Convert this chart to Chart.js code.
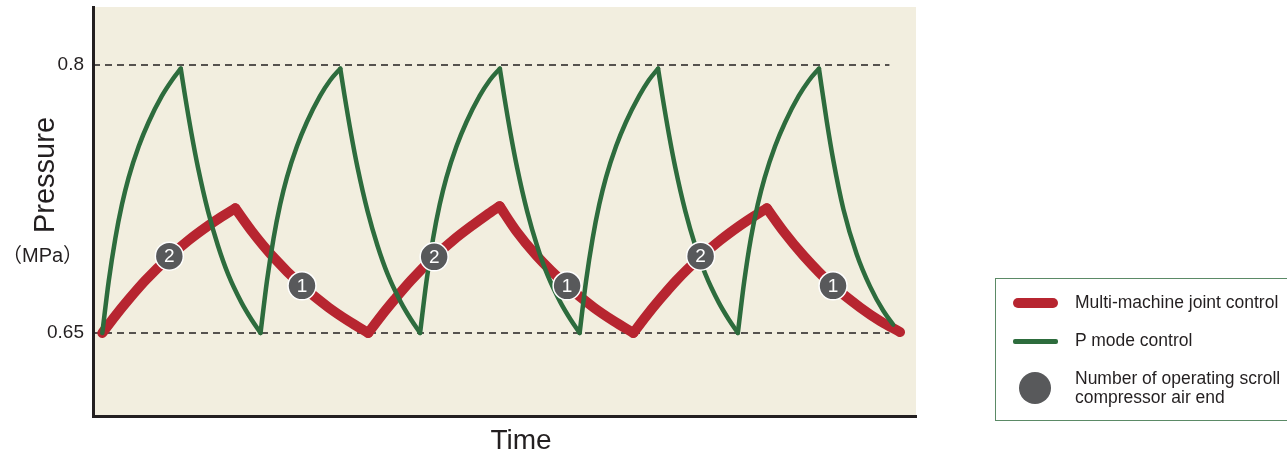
<!DOCTYPE html>
<html><head><meta charset="utf-8">
<script src="https://cdn.jsdelivr.net/npm/chart.js@4.4.1/dist/chart.umd.min.js"></script>
<style>
html,body{margin:0;padding:0;background:#fff;overflow:hidden;}
#wrap{position:relative;width:1287px;height:455px;overflow:hidden;font-family:"Liberation Sans",Arial,"Noto Sans CJK JP",sans-serif;color:#231f20;}
#c{position:absolute;left:0;top:0;}
.t{position:absolute;white-space:nowrap;line-height:1;}
#ytitle{left:44px;top:175px;font-size:29px;transform:translate(-50%,-50%) rotate(-90deg);}
#yunit{left:2px;top:255px;font-size:20px;transform:translateY(-50%);}
#xtitle{left:521px;top:440px;font-size:28px;transform:translate(-50%,-50%);}
#lbox{position:absolute;left:995px;top:278px;width:310px;height:143px;border:1px solid #5b8a66;box-sizing:border-box;}
.sw{position:absolute;}
.lt{position:absolute;white-space:nowrap;line-height:1;font-size:17.5px;transform:translateY(-50%);color:#231f20;}
</style></head>
<body>
<div id="wrap">
<canvas id="c" width="1287" height="455"></canvas>
<div class="t" id="ytitle">Pressure</div>
<div class="t" id="yunit">（MPa）</div>
<div class="t" id="xtitle">Time</div>
<div id="lbox"></div>
<div class="sw" style="left:1013px;top:298px;width:45px;height:10px;border-radius:5px;background:#b72530;"></div>
<div class="lt" style="left:1075px;top:303px;">Multi-machine joint control</div>
<div class="sw" style="left:1013px;top:339px;width:45px;height:4.5px;border-radius:2px;background:#2d6c3d;"></div>
<div class="lt" style="left:1075px;top:341px;">P mode control</div>
<div class="sw" style="left:1019px;top:372px;width:32px;height:32px;border-radius:50%;background:#58595b;"></div>
<div class="lt" style="left:1075px;top:379px;">Number of operating scroll</div>
<div class="lt" style="left:1075px;top:398px;">compressor air end</div>
</div>
<script>
// ---- data (time in arbitrary units, pressure in MPa) ----
const greenTime = [
  0, 0.24, 0.49, 0.74, 0.99, 1.37, 1.74, 2.24, 2.62, 2.95,
  3.10, 3.35, 3.60, 3.98, 4.35, 4.73, 5.23, 5.61, 5.95,
  6.19, 6.44, 6.69, 6.94, 7.32, 7.69, 8.19, 8.57, 8.95,
  9.10, 9.35, 9.60, 9.98, 10.35, 10.73, 11.23, 11.61, 11.95,
  12.19, 12.44, 12.69, 12.94, 13.32, 13.69, 14.19, 14.57, 14.95,
  15.10, 15.35, 15.60, 15.98, 16.35, 16.73, 17.23, 17.61, 17.95,
  18.19, 18.44, 18.69, 18.94, 19.32, 19.69, 20.19, 20.55, 20.90,
  21.05, 21.30, 21.55, 21.93, 22.30, 22.68, 23.18, 23.56, 23.90,
  24.14, 24.39, 24.65, 24.91, 25.30, 25.68, 26.19, 26.58, 26.95,
  27.24, 27.49, 27.87, 28.37, 28.87, 29.37, 29.74
];
const greenPressure = [
  0.650, 0.6789, 0.7030, 0.7220, 0.7370, 0.7545, 0.7680, 0.7827, 0.7915, 0.798,
  0.7838, 0.7619, 0.7425, 0.7179, 0.6988, 0.6829, 0.6671, 0.6575, 0.650,
  0.6789, 0.7030, 0.7220, 0.7370, 0.7545, 0.7680, 0.7827, 0.7915, 0.798,
  0.7838, 0.7619, 0.7425, 0.7179, 0.6988, 0.6829, 0.6671, 0.6575, 0.650,
  0.6789, 0.7030, 0.7220, 0.7370, 0.7545, 0.7680, 0.7827, 0.7915, 0.798,
  0.7838, 0.7619, 0.7425, 0.7179, 0.6988, 0.6829, 0.6671, 0.6575, 0.650,
  0.6789, 0.7030, 0.7220, 0.7370, 0.7545, 0.7680, 0.7827, 0.7915, 0.798,
  0.7838, 0.7619, 0.7425, 0.7179, 0.6988, 0.6829, 0.6671, 0.6575, 0.650,
  0.6789, 0.7030, 0.7220, 0.7370, 0.7545, 0.7680, 0.7827, 0.7915, 0.798,
  0.7689, 0.7467, 0.7193, 0.6941, 0.6761, 0.6624, 0.6547
];
const redTime = [
  0, 0.49, 0.99, 1.62, 2.52, 3.24, 4.00, 4.50, 5.00,
  5.63, 6.38, 7.51, 8.51, 9.26, 10.00,
  10.49, 10.99, 11.61, 12.48, 13.20, 13.95, 14.45, 14.94,
  15.57, 16.32, 17.48, 18.48, 19.23, 19.97,
  20.46, 20.96, 21.59, 22.50, 23.23, 23.99, 24.49, 24.99,
  25.62, 26.37, 27.48, 28.50, 29.25, 30.00
];
const redPressure = [
  0.650, 0.6596, 0.6687, 0.6794, 0.6926, 0.7018, 0.7102, 0.7152, 0.7198,
  0.7068, 0.6933, 0.6764, 0.6643, 0.6567, 0.650,
  0.6596, 0.6687, 0.6794, 0.6926, 0.7020, 0.7106, 0.7160, 0.7210,
  0.7070, 0.6934, 0.6764, 0.6643, 0.6567, 0.650,
  0.6596, 0.6687, 0.6794, 0.6926, 0.7018, 0.7102, 0.7152, 0.7198,
  0.7068, 0.6933, 0.6764, 0.6643, 0.6567, 0.6505
];
const markerTime = [2.52, 7.51, 12.48, 17.48, 22.50, 27.48];
const markerPressure = [0.6930, 0.6764, 0.6926, 0.6764, 0.6930, 0.6764];
const markerLabels = ['2', '1', '2', '1', '2', '1'];
const yTickValues = [0.65, 0.8];
const yTickLabels = ['0.65', '0.8'];
const refLevels = [0.65, 0.8];
const refStart = -0.35, refEnd = 29.6;

// ---- styles ----
const RED = '#b72530', GREEN = '#2d6c3d', GREY = '#58595b', BEIGE = '#f2eedf', INK = '#231f20';

function splitMonotone(ts, ps) {
  const segs = []; let cur = [{x: ts[0], y: ps[0]}]; let dir = 0;
  for (let i = 1; i < ts.length; i++) {
    const d = Math.sign(ps[i] - ps[i - 1]);
    if (dir !== 0 && d !== 0 && d !== dir) {
      segs.push(cur);
      const last = cur[cur.length - 1];
      cur = [{x: last.x, y: last.y}];
    }
    if (d !== 0) dir = d;
    cur.push({x: ts[i], y: ps[i]});
  }
  segs.push(cur);
  return segs;
}

const datasets = [];
datasets.push({
  label: 'markers',
  data: markerTime.map((t, i) => ({x: t, y: markerPressure[i]})),
  showLine: false, pointRadius: 14, pointHoverRadius: 14,
  pointBackgroundColor: GREY, pointBorderColor: '#ffffff', pointBorderWidth: 1.5,
  order: 0
});
splitMonotone(greenTime, greenPressure).forEach(seg => datasets.push({
  label: 'P mode control', data: seg, borderColor: GREEN, borderWidth: 4.5,
  cubicInterpolationMode: 'monotone', pointRadius: 0, borderCapStyle: 'round',
  borderJoinStyle: 'round', fill: false, order: 1
}));
splitMonotone(redTime, redPressure).forEach(seg => datasets.push({
  label: 'Multi-machine joint control', data: seg, borderColor: RED, borderWidth: 10,
  cubicInterpolationMode: 'monotone', pointRadius: 0, borderCapStyle: 'round',
  borderJoinStyle: 'round', fill: false, order: 2
}));
refLevels.forEach(v => datasets.push({
  label: 'ref', data: [{x: refStart, y: v}, {x: refEnd, y: v}], borderColor: INK,
  borderWidth: 1.5, borderDash: [7, 5], pointRadius: 0, fill: false, order: 3
}));

const bgPlugin = {
  id: 'bg',
  beforeDraw(chart) {
    const {ctx, chartArea: a} = chart;
    ctx.save(); ctx.fillStyle = BEIGE;
    ctx.fillRect(a.left, a.top, a.right - a.left, a.bottom - a.top);
    ctx.restore();
  }
};
const markerText = {
  id: 'markerText',
  afterDatasetsDraw(chart) {
    const meta = chart.getDatasetMeta(0);
    const ctx = chart.ctx;
    ctx.save();
    ctx.fillStyle = '#ffffff';
    ctx.font = '19px "Liberation Sans", Arial, sans-serif';
    ctx.textAlign = 'center'; ctx.textBaseline = 'middle';
    meta.data.forEach((el, i) => ctx.fillText(markerLabels[i], el.x, el.y + 1));
    ctx.restore();
  }
};

new Chart(document.getElementById('c'), {
  type: 'line',
  data: {datasets},
  options: {
    responsive: false, animation: false, events: [],
    layout: {autoPadding: false, padding: {left: 0, right: 371, top: 7, bottom: 0}},
    plugins: {legend: {display: false}, tooltip: {enabled: false}},
    scales: {
      x: {
        type: 'linear', min: -0.35, max: 30.6,
        ticks: {display: false}, grid: {display: false, drawTicks: false},
        border: {display: true, color: INK, width: 3},
        afterFit(s) { s.height = 39; s.paddingLeft = 0; s.paddingRight = 0; }
      },
      y: {
        type: 'linear', min: 0.6035, max: 0.8325,
        afterBuildTicks(s) { s.ticks = yTickValues.map(v => ({value: v})); },
        ticks: {
          padding: 9, color: INK,
          font: {size: 19, family: '"Liberation Sans", Arial, sans-serif'},
          callback: (v) => { const i = yTickValues.indexOf(v); return i >= 0 ? yTickLabels[i] : ''; }
        },
        grid: {display: false, drawTicks: false},
        border: {display: true, color: INK, width: 3},
        afterFit(s) { s.width = 93; s.paddingTop = 0; s.paddingBottom = 0; }
      }
    }
  },
  plugins: [bgPlugin, markerText]
});
</script>
</body></html>
